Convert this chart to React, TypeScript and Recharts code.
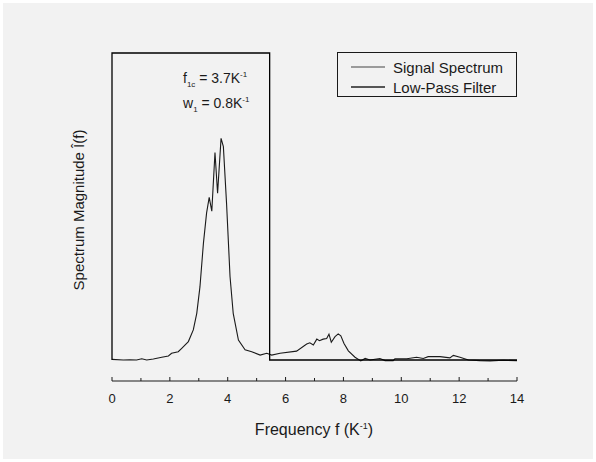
import { ComposedChart, Line, XAxis, YAxis } from 'recharts';

// spectrum (frequency in 1/K, magnitude normalised to the filter height)
const spectrumFreq = [
  0, 0.39, 0.62, 0.85, 1.03, 1.2, 1.43, 1.72, 1.95, 2.06,
  2.29, 2.41, 2.64, 2.81, 2.93, 3.04, 3.16, 3.27, 3.36, 3.45,
  3.56, 3.65, 3.77, 3.85, 3.96, 4.08, 4.19, 4.37, 4.6, 4.83,
  5.12, 5.35, 5.52, 5.81, 6.38, 6.73, 6.84, 6.96, 7.08, 7.17,
  7.3, 7.42, 7.5, 7.58, 7.71, 7.82, 7.91, 8.02, 8.17, 8.4,
  8.6, 8.75, 8.92, 9.26, 9.44, 9.72, 9.78, 10.19, 10.53, 10.76,
  10.93, 11.34, 11.68, 11.8, 12.03, 12.32, 12.72, 13.07, 13.53, 14,
];
const spectrumMag = [
  0.002, 0, 0.001, 0, 0.004, 0, 0.003, 0.009, 0.013, 0.022,
  0.027, 0.038, 0.06, 0.098, 0.152, 0.238, 0.38, 0.479, 0.53, 0.485,
  0.676, 0.543, 0.722, 0.695, 0.51, 0.272, 0.152, 0.065, 0.033, 0.027,
  0.016, 0.022, 0.016, 0.022, 0.029, 0.052, 0.056, 0.049, 0.068, 0.063,
  0.068, 0.07, 0.084, 0.058, 0.076, 0.085, 0.079, 0.054, 0.03, 0.009,
  -0.003, 0.005, 0, 0.005, -0.002, -0.002, 0.004, 0.004, 0.009, 0.005,
  0.011, 0.011, 0.007, 0.015, 0.009, 0, -0.002, -0.003, -0.001, -0.002,
];

// ideal low-pass window
const filterFreq = [0, 0, 5.45, 5.45, 14];
const filterMag = [0, 1, 1, 0, 0];

const xTicks = [0, 1, 2, 3, 4, 5, 6, 7, 8, 9, 10, 11, 12, 13, 14];

const spectrumData = spectrumFreq.map((f, i) => ({ f, v: spectrumMag[i] }));
const filterData = filterFreq.map((f, i) => ({ f, v: filterMag[i] }));

const FONT = '"Liberation Sans", Arial, Helvetica, sans-serif';
const INK = '#1a1a1a';

function FreqTick(props: any) {
  const { x, y, payload } = props;
  const major = payload.value % 2 === 0;
  return (
    <g>
      <line x1={x} y1={y} x2={x} y2={y - (major ? 4 : 3)} stroke={INK} strokeWidth={1} />
      {major && (
        <text x={x} y={y + 22} textAnchor="middle" fontSize={13} fontFamily={FONT} fill={INK}>
          {payload.value}
        </text>
      )}
    </g>
  );
}

export default function App() {
  return (
    <div
      style={{
        position: 'absolute',
        top: 0,
        left: 0,
        width: 596,
        height: 462,
        background: '#fff',
        fontFamily: FONT,
        color: INK,
      }}
    >
      <div
        style={{ position: 'absolute', left: 3, top: 3, width: 590, height: 456, background: '#f2f2f2' }}
      />
      <div style={{ position: 'absolute', left: 0, top: 0 }}>
        <ComposedChart width={596} height={462} margin={{ top: 53, right: 79, left: 112, bottom: 51 }}>
          <XAxis
            type="number"
            dataKey="f"
            domain={[0, 14]}
            ticks={xTicks}
            interval={0}
            height={30}
            tickSize={0}
            tickMargin={0}
            tickLine={false}
            axisLine={{ stroke: INK, strokeWidth: 1.2 }}
            tick={<FreqTick />}
          />
          <YAxis type="number" domain={[-0.0684, 1]} hide />
          <Line
            data={spectrumData}
            dataKey="v"
            type="linear"
            stroke="#1a1a1a"
            strokeWidth={1.1}
            dot={false}
            activeDot={false}
            isAnimationActive={false}
          />
          <Line
            data={filterData}
            dataKey="v"
            type="linear"
            stroke="#000"
            strokeWidth={1.3}
            dot={false}
            activeDot={false}
            isAnimationActive={false}
          />
        </ComposedChart>
      </div>

      {/* annotation */}
      <svg style={{ position: 'absolute', left: 0, top: 0 }} width={596} height={462}>
        <text x={183} y={83} fontSize={14} fontFamily={FONT} fill={INK}>
          f
          <tspan fontSize={8} dy={4}>1c</tspan>
          <tspan dy={-4}> = 3.7K</tspan>
          <tspan fontSize={8} dy={-6}>-1</tspan>
        </text>
        <text x={183} y={108} fontSize={14} fontFamily={FONT} fill={INK}>
          w
          <tspan fontSize={8} dy={4}>1</tspan>
          <tspan dy={-4}> = 0.8K</tspan>
          <tspan fontSize={8} dy={-6}>-1</tspan>
        </text>
      </svg>

      {/* legend */}
      <div
        style={{
          position: 'absolute',
          left: 337,
          top: 52,
          width: 178,
          height: 43,
          border: `1px solid ${INK}`,
          fontSize: 15,
        }}
      >
        {[
          { name: 'Signal Spectrum', color: '#444', w: 1 },
          { name: 'Low-Pass Filter', color: '#222', w: 1.5 },
        ].map((item, i) => (
          <div
            key={item.name}
            style={{ position: 'absolute', left: 13, top: 4 + i * 20, height: 20, display: 'flex', alignItems: 'center', whiteSpace: 'nowrap' }}
          >
            <svg width={34} height={4} style={{ marginRight: 8 }}>
              <line x1={0} y1={2} x2={34} y2={2} stroke={item.color} strokeWidth={item.w} />
            </svg>
            <span>{item.name}</span>
          </div>
        ))}
      </div>

      {/* axis titles */}
      <div
        style={{ position: 'absolute', left: 214, width: 200, top: 420, textAlign: 'center', fontSize: 16, lineHeight: '20px', whiteSpace: 'nowrap' }}
      >
        Frequency f (K<sup style={{ fontSize: 9, lineHeight: 0 }}>-1</sup>)
      </div>
      <div
        style={{
          position: 'absolute',
          left: 78,
          top: 210,
          fontSize: 15,
          whiteSpace: 'nowrap',
          transform: 'translate(-50%, -50%) rotate(-90deg)',
        }}
      >
        Spectrum Magnitude Î(f)
      </div>
    </div>
  );
}
